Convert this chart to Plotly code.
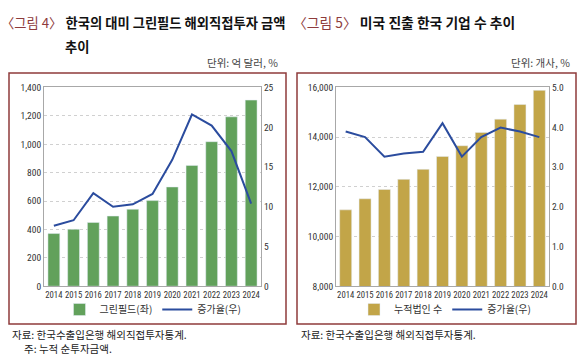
import plotly.graph_objects as go

years = ["2014", "2015", "2016", "2017", "2018", "2019", "2020", "2021", "2022", "2023", "2024"]
greenfield = [371, 401, 449, 494, 542, 603, 699, 851, 1018, 1193, 1311]
greenfield_growth = [7.6, 8.3, 11.7, 10.0, 10.3, 11.6, 15.9, 21.6, 20.2, 17.0, 10.4]
firms = [11073, 11519, 11894, 12301, 12704, 13224, 13654, 14190, 14725, 15312, 15883]
firms_growth = [3.89, 3.75, 3.26, 3.34, 3.38, 4.10, 3.26, 3.75, 3.99, 3.89, 3.75]

W, H = 584, 362
FONT = "Noto Sans CJK KR"
NUMFONT = "Liberation Sans Narrow, Roboto Condensed, Liberation Sans, Roboto"
GREEN = "#62A15B"
GOLD = "#C2A548"
BLUE = "#2B4C9E"
FRAME = "#8E3B3B"
AX = "#A8A8A8"

def px(x):
    return x / W

def py(y):
    return 1 - y / H

fig = go.Figure()

fig.add_trace(go.Bar(x=years, y=greenfield, name="그린필드(좌)", marker_color=GREEN,
                     width=0.6, xaxis="x", yaxis="y", legend="legend"))
fig.add_trace(go.Scatter(x=years, y=greenfield_growth, name="증가율(우)", mode="lines",
                         line=dict(color=BLUE, width=2), xaxis="x", yaxis="y2", legend="legend"))
fig.add_trace(go.Bar(x=years, y=firms, name="누적법인 수", marker_color=GOLD,
                     width=0.62, xaxis="x2", yaxis="y3", legend="legend2"))
fig.add_trace(go.Scatter(x=years, y=firms_growth, name="증가율(우)", mode="lines",
                         line=dict(color=BLUE, width=2), xaxis="x2", yaxis="y4", legend="legend2"))

xtickfont = dict(family=NUMFONT, size=8.7, color="#333")
ytickfont = dict(family=NUMFONT, size=9.5, color="#333")
ydom = [py(289), py(84)]

common_x = dict(type="category", range=[-0.5, 10.5], showline=True, linecolor=AX, mirror=True,
                ticks="", tickfont=xtickfont, showgrid=False, tickangle=0)
common_y = dict(showline=True, linecolor=AX, ticks="", tickfont=ytickfont,
                gridcolor="#D0D0D0", griddash="dot", zeroline=False)

legfont = dict(family=FONT, size=10, color="#333")

fig.update_layout(
    width=W, height=H, margin=dict(l=0, r=0, t=0, b=0),
    paper_bgcolor="white", plot_bgcolor="white",
    font=dict(family=FONT, color="#333"),
    xaxis=dict(domain=[px(44), px(261)], anchor="y", **common_x),
    yaxis=dict(domain=ydom, anchor="x", range=[0, 1400], dtick=200, tickformat=",",
               showgrid=True, mirror=True, **common_y),
    yaxis2=dict(overlaying="y", side="right", anchor="x", range=[0, 25], dtick=5,
                showgrid=False, **common_y),
    xaxis2=dict(domain=[px(336), px(549)], anchor="y3", **common_x),
    yaxis3=dict(domain=ydom, anchor="x2", range=[8000, 16000], dtick=2000, tickformat=",",
                showgrid=True, mirror=True, **common_y),
    yaxis4=dict(overlaying="y3", side="right", anchor="x2", range=[0, 5], dtick=1,
                tickformat=".1f", showgrid=False, **common_y),
    legend=dict(orientation="h", x=px(153), xanchor="center", y=py(313), yanchor="middle",
                font=legfont, itemwidth=30, bgcolor="rgba(0,0,0,0)"),
    legend2=dict(orientation="h", x=px(445), xanchor="center", y=py(313), yanchor="middle",
                 font=legfont, itemwidth=30, bgcolor="rgba(0,0,0,0)"),
    showlegend=True,
)

shapes = []
for x0, x1 in [(9, 286), (297, 576)]:
    shapes.append(dict(type="rect", xref="paper", yref="paper", x0=px(x0), x1=px(x1),
                       y0=py(328), y1=py(69), line=dict(color=FRAME, width=1.5)))
fig.update_layout(shapes=shapes)

TITLE_RED = "#8E3B3B"
annos = [
    dict(x=px(0), y=py(17), text="<span style='color:%s'>〈그림 4〉</span><b> 한국의 대미 그린필드 해외직접투자 금액</b>" % TITLE_RED,
         xanchor="left", yanchor="middle", font=dict(family=FONT, size=13.3, color="#111")),
    dict(x=px(64), y=py(42), text="<b>추이</b>", xanchor="left", yanchor="middle",
         font=dict(family=FONT, size=13.3, color="#111")),
    dict(x=px(279), y=py(58), text="단위: 억 달러, %", xanchor="right", yanchor="middle",
         font=dict(family=FONT, size=10.5, color="#444")),
    dict(x=px(292), y=py(17), text="<span style='color:%s'>〈그림 5〉</span><b> 미국 진출 한국 기업 수 추이</b>" % TITLE_RED,
         xanchor="left", yanchor="middle", font=dict(family=FONT, size=13.8, color="#111")),
    dict(x=px(571), y=py(58), text="단위: 개사, %", xanchor="right", yanchor="middle",
         font=dict(family=FONT, size=10.5, color="#444")),
    dict(x=px(11), y=py(339), text="자료: 한국수출입은행 해외직접투자통계.", xanchor="left", yanchor="middle",
         font=dict(family=FONT, size=10.5, color="#222")),
    dict(x=px(23), y=py(353), text="주: 누적 순투자금액.", xanchor="left", yanchor="middle",
         font=dict(family=FONT, size=10.5, color="#222")),
    dict(x=px(300), y=py(339), text="자료: 한국수출입은행 해외직접투자통계.", xanchor="left", yanchor="middle",
         font=dict(family=FONT, size=10.5, color="#222")),
]
for a in annos:
    a.update(xref="paper", yref="paper", showarrow=False, borderpad=0)
fig.update_layout(annotations=annos)

fig.write_html("out.html", config={"displayModeBar": False},
               post_script="document.body.style.margin='0';document.body.style.overflow='hidden';")
